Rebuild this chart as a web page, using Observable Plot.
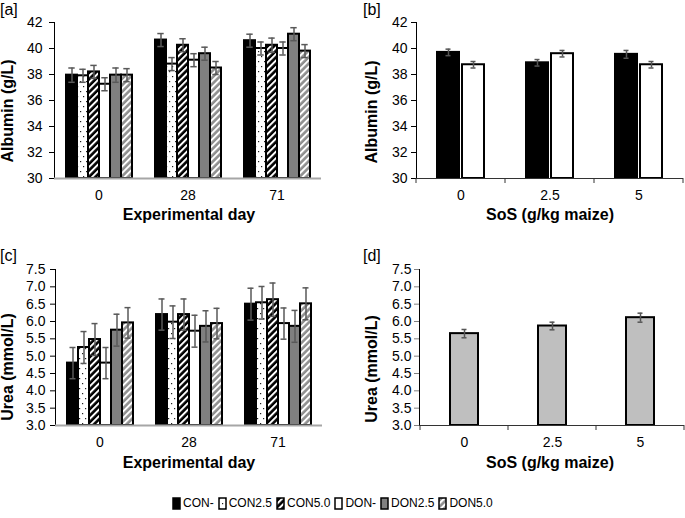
<!DOCTYPE html>
<html><head><meta charset="utf-8">
<script src="https://cdn.jsdelivr.net/npm/d3@7"></script>
<script src="https://cdn.jsdelivr.net/npm/@observablehq/plot@0.6"></script>
<style>
body{margin:0;background:#fff;font-family:"Liberation Sans",Arial,sans-serif;}
#fig{position:relative;width:685px;height:518px;overflow:hidden;background:#fff;}
.panel{position:absolute;}
.tag{position:absolute;font-size:16px;line-height:16px;color:#000;}
.xt{position:absolute;font-size:16px;font-weight:bold;transform:translate(-50%,-50%);white-space:nowrap;line-height:1;}
.yt{position:absolute;font-size:16px;font-weight:bold;transform:translate(-50%,-50%) rotate(-90deg);white-space:nowrap;line-height:1;}
#legend{position:absolute;left:172px;top:496px;display:flex;align-items:center;font-size:12px;line-height:14px;}
#legend .it{display:flex;align-items:center;margin-right:4px;}
#legend svg{margin-right:2px;}
svg [aria-label="y-axis tick"], svg [aria-label="y-axis line"]{stroke:#808080;}
</style></head><body>
<svg width="0" height="0" style="position:absolute">
<defs>
<pattern id="dots" width="6" height="10" patternUnits="userSpaceOnUse">
<rect width="6" height="10" fill="#fff"/>
<rect x="1" y="1" width="1.2" height="1.2" fill="#222"/>
<rect x="4" y="6" width="1.2" height="1.2" fill="#222"/>
</pattern>
<pattern id="stripeK" width="4.6" height="4.6" patternUnits="userSpaceOnUse" patternTransform="rotate(45)">
<rect width="4.6" height="4.6" fill="#000"/>
<rect width="2" height="4.6" fill="#fff"/>
</pattern>
<pattern id="stripeG" width="4.6" height="4.6" patternUnits="userSpaceOnUse" patternTransform="rotate(45)">
<rect width="4.6" height="4.6" fill="#8f8f8f"/>
<rect width="2" height="4.6" fill="#fff"/>
</pattern>
</defs></svg>
<div id="fig"></div>
<script>
// ---------- data ----------
const days = ["0", "28", "71"];
const treatments = ["CON-", "CON2.5", "CON5.0", "DON-", "DON2.5", "DON5.0"];
const treatmentFill = ["#000", "url(#dots)", "url(#stripeK)", "#fff", "#808080", "url(#stripeG)"];

// [a] Albumin by experimental day (rows = day, cols = treatment)
const albuminDay = [
  [37.95, 37.9, 38.2, 37.25, 37.95, 37.95],
  [40.65, 38.8, 40.25, 39.1, 39.6, 38.5],
  [40.6, 40.0, 40.25, 40.0, 41.1, 39.8]
];
const albuminDayErr = [
  [0.55, 0.5, 0.5, 0.5, 0.55, 0.5],
  [0.5, 0.5, 0.5, 0.5, 0.5, 0.5],
  [0.5, 0.5, 0.55, 0.5, 0.5, 0.5]
];

// [b] Albumin by SoS level (rows = SoS, cols = diet)
const sosLevels = ["0", "2.5", "5"];
const diets = ["CON", "DON"];
const dietFill = ["#000", "#fff"];
const albuminSoS = [[39.7, 38.75], [38.9, 39.6], [39.55, 38.75]];
const albuminSoSErr = [[0.25, 0.25], [0.25, 0.25], [0.3, 0.25]];

// [c] Urea by experimental day
const ureaDay = [
  [4.8, 5.25, 5.48, 4.8, 5.75, 5.96],
  [6.2, 5.98, 6.2, 5.72, 5.86, 5.94],
  [6.5, 6.54, 6.63, 5.94, 5.86, 6.51]
];
const ureaDayErr = [
  [0.45, 0.46, 0.46, 0.45, 0.46, 0.44],
  [0.45, 0.47, 0.45, 0.46, 0.45, 0.44],
  [0.46, 0.47, 0.48, 0.45, 0.46, 0.46]
];

// [d] Urea by SoS level
const ureaSoS = [5.65, 5.87, 6.11];
const ureaSoSErr = [0.12, 0.11, 0.13];

const albuminTicks = [30, 32, 34, 36, 38, 40, 42];
const ureaTicks = [3.0, 3.5, 4.0, 4.5, 5.0, 5.5, 6.0, 6.5, 7.0, 7.5];

// ---------- helpers ----------
const fig = document.getElementById("fig");
const baseStyle = {fontFamily: "'Liberation Sans', Arial, sans-serif", fontSize: "14px", color: "#000", background: "transparent", overflow: "visible"};
function place(el, left, top) { el.classList.add("panel"); el.style.left = left + "px"; el.style.top = top + "px"; fig.appendChild(el); }
function addText(cls, txt, left, top) { const d = document.createElement("div"); d.className = cls; d.textContent = txt; d.style.left = left + "px"; d.style.top = top + "px"; fig.appendChild(d); }

const fillOfTrt = Object.fromEntries(treatments.map((t, i) => [t, treatmentFill[i]]));
const fillOfDiet = Object.fromEntries(diets.map((t, i) => [t, dietFill[i]]));

function dayData(vals, errs) {
  return days.flatMap((d, i) => treatments.map((t, j) => ({day: d, trt: t, v: vals[i][j], e: errs[i][j]})));
}

function boundaryTicks(plot, xs, yVal) {
  const y0 = plot.scale("y").apply(yVal);
  d3.select(plot).append("g").attr("aria-label", "category boundary ticks")
    .selectAll("line").data(xs).join("line")
    .attr("x1", d => d).attr("x2", d => d).attr("y1", y0).attr("y2", y0 + 5)
    .attr("stroke", "#333").attr("stroke-width", 1);
}

// ---------- [a] ----------
const dataA = dayData(albuminDay, albuminDayErr);
const plotA = Plot.plot({
  width: 340, height: 205, marginLeft: 53, marginRight: 18, marginTop: 22, marginBottom: 27,
  style: baseStyle,
  facet: {data: dataA, x: "day"},
  fx: {domain: days, paddingInner: 0, paddingOuter: 0, label: null, tickSize: 0, tickPadding: 12, axis: "bottom"},
  x: {domain: treatments, paddingInner: 0, paddingOuter: 0.97, axis: null},
  y: {domain: [30, 42], ticks: albuminTicks, label: null, line: true, tickSize: 5, tickPadding: 7},
  color: {type: "identity"},
  marks: [
    Plot.barY(dataA, {x: "trt", y1: 30, y2: "v", fill: d => fillOfTrt[d.trt], stroke: "#000", strokeWidth: 2}),
    Plot.ruleY([30], {stroke: "#a6a6a6", strokeWidth: 2}),
    Plot.ruleX(dataA, {x: "trt", y1: d => d.v - d.e, y2: d => d.v + d.e, stroke: "#595959", strokeWidth: 1.5}),
    Plot.tickY(dataA, {x: "trt", y: d => d.v + d.e, stroke: "#595959", strokeWidth: 1.5, insetLeft: 2.3, insetRight: 2.3}),
    Plot.tickY(dataA, {x: "trt", y: d => d.v - d.e, stroke: "#595959", strokeWidth: 1.5, insetLeft: 2.3, insetRight: 2.3})
  ]
});
place(plotA, 0, 0);

// ---------- [c] ----------
const dataC = dayData(ureaDay, ureaDayErr);
const plotC = Plot.plot({
  width: 340, height: 205, marginLeft: 55, marginRight: 18, marginTop: 22, marginBottom: 27,
  style: baseStyle,
  facet: {data: dataC, x: "day"},
  fx: {domain: days, paddingInner: 0, paddingOuter: 0, label: null, tickSize: 0, tickPadding: 12, axis: "bottom"},
  x: {domain: treatments, paddingInner: 0, paddingOuter: 0.97, axis: null},
  y: {domain: [3, 7.5], ticks: ureaTicks, tickFormat: ".1f", label: null, line: true, tickSize: 5, tickPadding: 5},
  color: {type: "identity"},
  marks: [
    Plot.barY(dataC, {x: "trt", y1: 3, y2: "v", fill: d => fillOfTrt[d.trt], stroke: "#000", strokeWidth: 2}),
    Plot.ruleY([3], {stroke: "#a6a6a6", strokeWidth: 2}),
    Plot.ruleX(dataC, {x: "trt", y1: d => d.v - d.e, y2: d => d.v + d.e, stroke: "#595959", strokeWidth: 1.5}),
    Plot.tickY(dataC, {x: "trt", y: d => d.v + d.e, stroke: "#595959", strokeWidth: 1.5, insetLeft: 2.5, insetRight: 2.5}),
    Plot.tickY(dataC, {x: "trt", y: d => d.v - d.e, stroke: "#595959", strokeWidth: 1.5, insetLeft: 2.5, insetRight: 2.5})
  ]
});
place(plotC, 0, 247);

// ---------- [b] ----------
const dataB = sosLevels.flatMap((s, i) => diets.map((d, j) => ({sos: s, diet: d, v: albuminSoS[i][j], e: albuminSoSErr[i][j]})));
const plotB = Plot.plot({
  width: 345, height: 205, marginLeft: 75, marginRight: 1, marginTop: 22, marginBottom: 27,
  style: baseStyle,
  facet: {data: dataB, x: "sos"},
  fx: {domain: sosLevels, paddingInner: 0, paddingOuter: 0, label: null, tickSize: 0, tickPadding: 12, axis: "bottom"},
  x: {domain: diets, paddingInner: 0.13, paddingOuter: 0.84, axis: null},
  y: {domain: [30, 42], ticks: albuminTicks, label: null, line: true, tickSize: 5, tickPadding: 4},
  color: {type: "identity"},
  marks: [
    Plot.barY(dataB, {x: "diet", y1: 30, y2: "v", fill: d => fillOfDiet[d.diet], stroke: "#000", strokeWidth: 2}),
    Plot.ruleY([30], {stroke: "#333", strokeWidth: 1}),
    Plot.ruleX(dataB, {x: "diet", y1: d => d.v - d.e, y2: d => d.v + d.e, stroke: "#555", strokeWidth: 1.5}),
    Plot.tickY(dataB, {x: "diet", y: d => d.v + d.e, stroke: "#555", strokeWidth: 1.5, insetLeft: 8.5, insetRight: 8.5}),
    Plot.tickY(dataB, {x: "diet", y: d => d.v - d.e, stroke: "#555", strokeWidth: 1.5, insetLeft: 8.5, insetRight: 8.5})
  ]
});
try {
  const fx = plotB.scale("fx");
  const xs = fx.domain.map(d => fx.apply(d));
  xs.push(fx.apply(fx.domain[fx.domain.length - 1]) + fx.bandwidth);
  boundaryTicks(plotB, xs, 30);
} catch (e) { console.error(e); }
place(plotB, 340, 0);

// ---------- [d] ----------
const dataD = sosLevels.map((s, i) => ({sos: s, v: ureaSoS[i], e: ureaSoSErr[i]}));
const plotD = Plot.plot({
  width: 345, height: 205, marginLeft: 79, marginRight: 1, marginTop: 22, marginBottom: 27,
  style: baseStyle,
  x: {domain: sosLevels, paddingInner: 0.683, paddingOuter: 0.34, label: null, tickSize: 0, tickPadding: 12},
  y: {domain: [3, 7.5], ticks: ureaTicks, tickFormat: ".1f", label: null, line: true, tickSize: 5, tickPadding: 3},
  marks: [
    Plot.barY(dataD, {x: "sos", y1: 3, y2: "v", fill: "#bfbfbf", stroke: "#000", strokeWidth: 2}),
    Plot.ruleY([3], {stroke: "#333", strokeWidth: 1}),
    Plot.ruleX(dataD, {x: "sos", y1: d => d.v - d.e, y2: d => d.v + d.e, stroke: "#555", strokeWidth: 1.5}),
    Plot.tickY(dataD, {x: "sos", y: d => d.v + d.e, stroke: "#555", strokeWidth: 1.5, insetLeft: 11.5, insetRight: 11.5}),
    Plot.tickY(dataD, {x: "sos", y: d => d.v - d.e, stroke: "#555", strokeWidth: 1.5, insetLeft: 11.5, insetRight: 11.5})
  ]
});
try {
  const x = plotD.scale("x");
  const c = x.domain.map(d => x.apply(d) + x.bandwidth / 2);
  const step = c[1] - c[0];
  const xs = c.map(v => v - step / 2);
  xs.push(c[c.length - 1] + step / 2);
  boundaryTicks(plotD, xs, 3);
} catch (e) { console.error(e); }
place(plotD, 340, 247);

// ---------- text ----------
addText("tag", "[a]", 0, 2);
addText("tag", "[b]", 363, 2);
addText("tag", "[c]", 0, 248);
addText("tag", "[d]", 363, 248);
addText("yt", "Albumin (g/L)", 8, 111);
addText("yt", "Albumin (g/L)", 372, 112);
addText("yt", "Urea (mmol/L)", 8, 367);
addText("yt", "Urea (mmol/L)", 372, 369);
addText("xt", "Experimental day", 189, 215);
addText("xt", "SoS (g/kg maize)", 550, 215);
addText("xt", "Experimental day", 189, 463);
addText("xt", "SoS (g/kg maize)", 550, 463);

// ---------- legend ----------
const legend = document.createElement("div");
legend.id = "legend";
treatments.forEach((t, i) => {
  const it = document.createElement("div");
  it.className = "it";
  it.innerHTML = `<svg width="9" height="13"><rect x="1" y="1" width="7" height="11" fill="${treatmentFill[i]}" stroke="#000" stroke-width="1.5"/></svg><span>${t}</span>`;
  legend.appendChild(it);
});
fig.appendChild(legend);
</script>
</body></html>
